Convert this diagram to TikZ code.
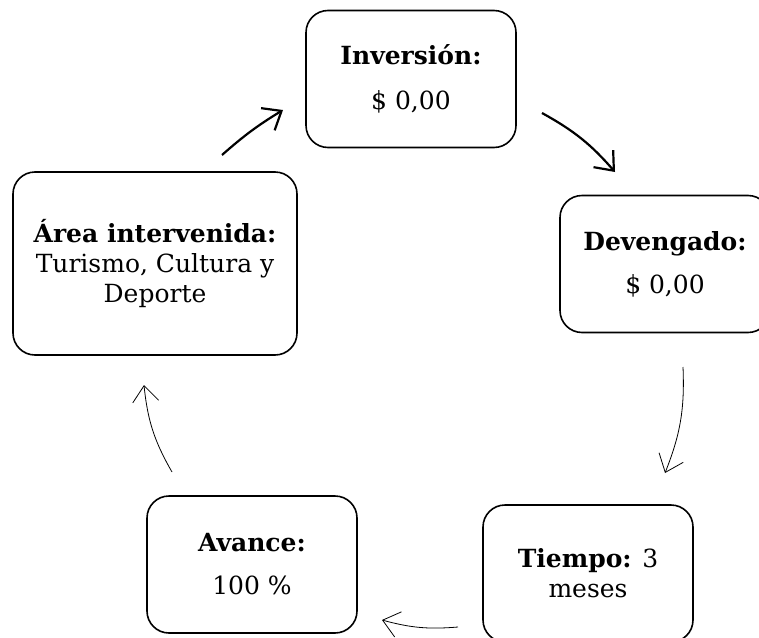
\documentclass[tikz,border=0pt]{standalone}
\usepackage{fontspec}
\setmainfont{DejaVu Serif}
\usetikzlibrary{arrows.meta,positioning}

\begin{document}
\begin{tikzpicture}[
  x=1pt, y=1pt,
  font=\fontsize{25}{30}\selectfont,
  box/.style={draw, line width=1.6pt, rounded corners=22pt, align=center,
    minimum width=210pt, minimum height=137pt, inner sep=0pt},
  ar/.style={-{Straight Barb[length=16pt,width=26pt]}, line width=2.2pt},
  thinar/.style={-{Straight Barb[length=16pt,width=26pt]}, line width=0.8pt}
]
  \useasboundingbox (0,0) rectangle (759,-637);
  \node[box] (inv) at (411,-79) {\textbf{Inversión:}\\[15pt]\$ 0,00};
  \node[box] (dev) at (665,-264) {\textbf{Devengado:}\\[13pt]\$ 0,00};
  \node[box] (tiem) at (588,-573.5) {\textbf{Tiempo:} 3\\meses};
  \node[box] (av) at (252,-564.5) {\textbf{Avance:}\\[13pt]100 \%};
  \node[box, minimum width=284pt, minimum height=183pt] (area) at (155,-263.5)
    {\textbf{Área intervenida:}\\Turismo, Cultura y\\Deporte};
  % arrow ends
  \coordinate (area-out) at (222,-155);
  \coordinate (inv-in) at (283,-110);
  \coordinate (inv-out) at (542,-113);
  \coordinate (dev-in) at (615,-172);
  \coordinate (dev-out) at (683,-367);
  \coordinate (tiem-in) at (665,-473);
  \coordinate (tiem-out) at (458,-627);
  \coordinate (av-in) at (382,-620);
  \coordinate (av-out) at (172,-472);
  \coordinate (area-in) at (144,-385);
  \draw[ar] (area-out) to[bend left=5] (inv-in);
  \draw[ar] (inv-out) to[bend left=10] (dev-in);
  \draw[thinar] (dev-out) to[bend left=12] (tiem-in);
  \draw[thinar] (tiem-out) to[bend left=10] (av-in);
  \draw[thinar] (av-out) to[bend left=12] (area-in);
\end{tikzpicture}
\end{document}
